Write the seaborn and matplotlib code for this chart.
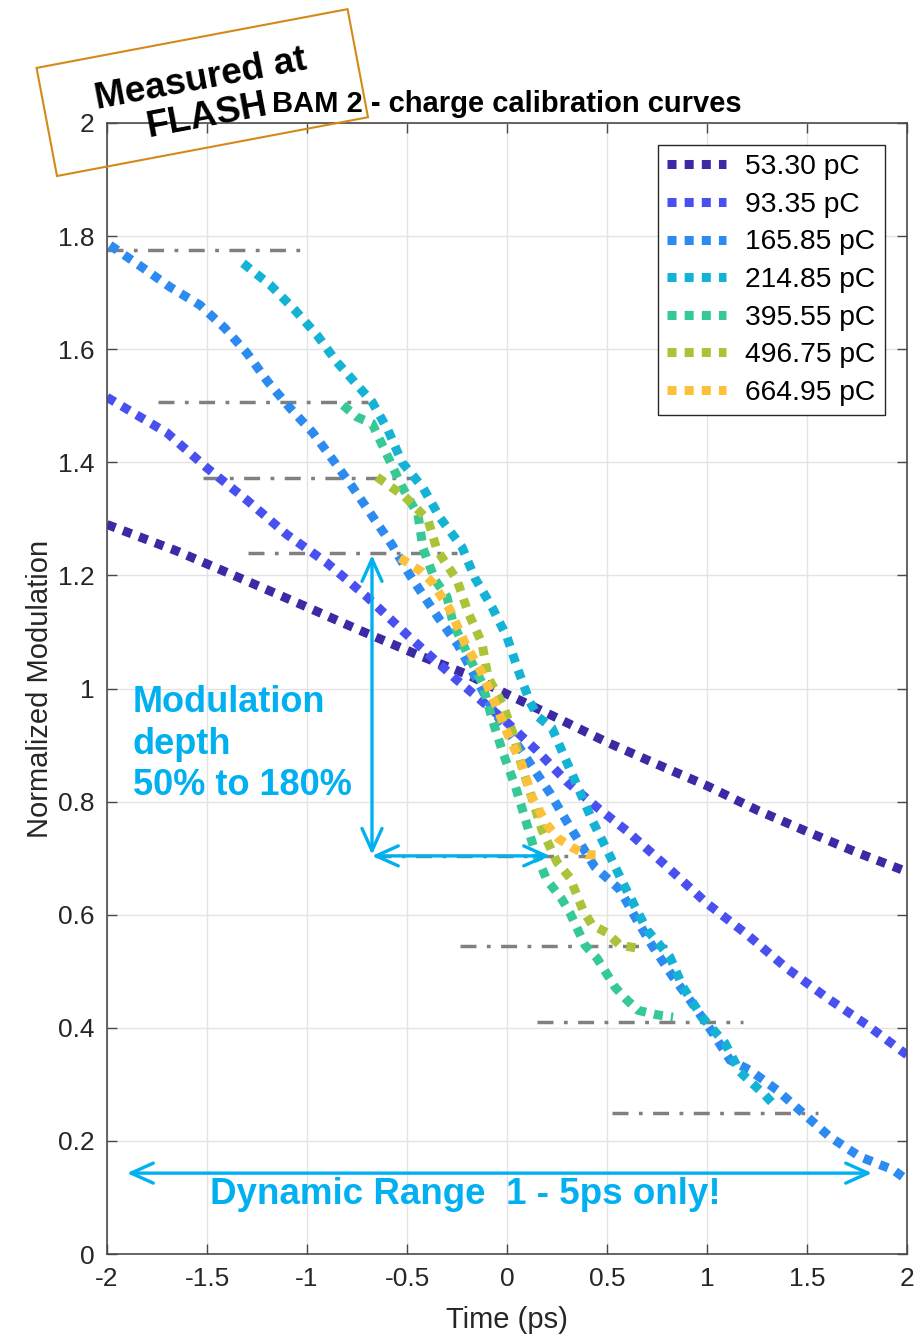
import numpy as np
import pandas as pd
import matplotlib
matplotlib.use("Agg")
import matplotlib.pyplot as plt
import seaborn as sns
from matplotlib.patches import Rectangle

# ---------------- data ----------------
charge_labels = ["53.30 pC", "93.35 pC", "165.85 pC", "214.85 pC",
                 "395.55 pC", "496.75 pC", "664.95 pC"]
colors = ["#3b2aa3", "#4a50f0", "#2d8af0", "#14b3d6", "#36c995", "#aac43a", "#fdc03b"]

t_53 = [-2.0, -1.65, -1.3, -1.0, -0.75, -0.45, -0.2, 0.0, 0.25, 0.5, 0.75, 1.0, 1.25, 1.5, 1.75, 2.0]
m_53 = [1.29, 1.243, 1.19, 1.144, 1.105, 1.06, 1.025, 0.99, 0.948, 0.905, 0.866, 0.828, 0.785, 0.747, 0.71, 0.676]

t_93 = [-2.0, -1.7, -1.5, -1.3, -1.1, -0.9, -0.7, -0.5, -0.25, 0.0, 0.15, 0.3, 0.45, 0.6, 0.8, 1.0, 1.2, 1.4, 1.6, 1.8, 2.0]
m_93 = [1.515, 1.452, 1.39, 1.333, 1.272, 1.222, 1.162, 1.095, 1.015, 0.94, 0.89, 0.835, 0.79, 0.748, 0.685, 0.62, 0.565, 0.505, 0.453, 0.405, 0.352]

t_165 = [-1.985, -1.825, -1.685, -1.535, -1.41, -1.3, -1.195, -1.085, -0.97, -0.87, -0.77, -0.67, -0.575,
         -0.485, -0.345, -0.245, -0.07, 0.08, 0.215, 0.3, 0.44, 0.565, 0.65, 0.73, 0.83, 0.915, 1.025,
         1.115, 1.215, 1.35, 1.48, 1.615, 1.765, 1.93, 2.0]
m_165 = [1.784, 1.745, 1.71, 1.678, 1.637, 1.593, 1.542, 1.496, 1.452, 1.404, 1.355, 1.303, 1.254,
         1.2, 1.126, 1.077, 0.962, 0.886, 0.815, 0.764, 0.684, 0.644, 0.59, 0.543, 0.49, 0.449, 0.393,
         0.343, 0.325, 0.29, 0.249, 0.207, 0.172, 0.149, 0.131]

t_214 = [-1.32, -1.185, -1.06, -0.95, -0.85, -0.735, -0.675, -0.595, -0.525, -0.42, -0.335, -0.225,
         -0.16, -0.075, 0.0, 0.055, 0.115, 0.155, 0.225, 0.29, 0.365, 0.43, 0.505, 0.58, 0.7, 0.815,
         0.88, 0.975, 1.09, 1.165, 1.29, 1.35]
m_214 = [1.752, 1.714, 1.669, 1.625, 1.577, 1.531, 1.507, 1.457, 1.4, 1.355, 1.302, 1.25,
         1.195, 1.144, 1.091, 1.033, 0.976, 0.95, 0.93, 0.877, 0.817, 0.764, 0.711, 0.656, 0.573, 0.525,
         0.472, 0.419, 0.373, 0.322, 0.281, 0.258]

t_395 = [-0.82, -0.75, -0.675, -0.6, -0.525, -0.445, -0.42, -0.36, -0.3, -0.27, -0.2, -0.125, -0.07,
         -0.02, 0.04, 0.09, 0.14, 0.2, 0.27, 0.315, 0.39, 0.45, 0.54, 0.6, 0.655, 0.75, 0.83]
m_395 = [1.501, 1.48, 1.469, 1.413, 1.357, 1.307, 1.248, 1.192, 1.162, 1.116, 1.063, 1.01, 0.941,
         0.886, 0.829, 0.771, 0.711, 0.661, 0.63, 0.603, 0.546, 0.523, 0.472, 0.449, 0.431, 0.423, 0.419]

t_496 = [-0.65, -0.51, -0.395, -0.35, -0.25, -0.195, -0.125, -0.095, -0.02, 0.03, 0.075, 0.125,
         0.175, 0.25, 0.315, 0.38, 0.425, 0.5, 0.565, 0.65]
m_496 = [1.374, 1.339, 1.298, 1.245, 1.192, 1.135, 1.08, 1.02, 0.971, 0.921, 0.861, 0.806,
         0.75, 0.693, 0.665, 0.608, 0.582, 0.568, 0.546, 0.541]

t_664 = [-0.535, -0.425, -0.37, -0.285, -0.21, -0.125, -0.06, 0.005, 0.075, 0.125, 0.2, 0.255, 0.33, 0.4, 0.48]
m_664 = [1.231, 1.206, 1.186, 1.139, 1.08, 1.027, 0.974, 0.918, 0.865, 0.808, 0.759, 0.735, 0.718, 0.706, 0.706]

# reference levels (dash-dot)
ref_levels = [1.775, 1.507, 1.372, 1.24, 0.704, 0.545, 0.41, 0.249]
ref_x_start = [-2.0, -1.745, -1.52, -1.295, -0.66, -0.235, 0.15, 0.525]
ref_x_end = [-1.01, -0.695, -0.475, -0.25, 0.45, 0.8, 1.18, 1.555]

x_ticks = [-2, -1.5, -1, -0.5, 0, 0.5, 1, 1.5, 2]
x_tick_labels = ["-2", "-1.5", "-1", "-0.5", "0", "0.5", "1", "1.5", "2"]
y_ticks = [0, 0.2, 0.4, 0.6, 0.8, 1.0, 1.2, 1.4, 1.6, 1.8, 2.0]
y_tick_labels = ["0", "0.2", "0.4", "0.6", "0.8", "1", "1.2", "1.4", "1.6", "1.8", "2"]

# annotation arrows: (x_start, y_start, x_end, y_end)
depth_arrow = (-0.675, 1.236, -0.675, 0.706)
time_arrow = (-0.675, 0.704, 0.215, 0.704)
range_arrow = (-1.9, 0.143, 1.825, 0.143)

# ---------------- style ----------------
sns.set_theme(style="ticks")
plt.rcParams["font.family"] = ["Liberation Sans", "DejaVu Sans"]
dark = "#262626"
axis_gray = "#4a4a4a"
cyan = "#00b0f0"

fig, ax = plt.subplots(figsize=(9.24, 13.36), dpi=100)
fig.subplots_adjust(left=107 / 924, right=907 / 924, bottom=82 / 1336, top=1 - 123 / 1336)

times = [t_53, t_93, t_165, t_214, t_395, t_496, t_664]
mods = [m_53, m_93, m_165, m_214, m_395, m_496, m_664]
frames = [pd.DataFrame({"Time": t, "Mod": m, "Charge": lab})
          for lab, t, m in zip(charge_labels, times, mods)]
df = pd.concat(frames, ignore_index=True)

# dash-dot reference levels (below curves)
ax.hlines(ref_levels, ref_x_start, ref_x_end, colors="#808080",
          linestyles=[(0, (4.6, 3.0, 1.1, 3.0))], linewidth=2.5, zorder=1.8)

sns.lineplot(data=df, x="Time", y="Mod", hue="Charge", hue_order=charge_labels,
             palette=colors, linewidth=6.5, linestyle=(0, (1, 0.9)),
             sort=False, estimator=None, legend=False, ax=ax, zorder=2)

ax.set_xlim(-2, 2)
ax.set_ylim(0, 2)
ax.set_xticks(x_ticks)
ax.set_xticklabels(x_tick_labels)
ax.set_yticks(y_ticks)
ax.set_yticklabels(y_tick_labels)
ax.grid(True, color="#e4e4e4", linewidth=1.0)
ax.set_axisbelow(True)
for s in ax.spines.values():
    s.set_visible(True)
    s.set_color(axis_gray)
    s.set_linewidth(1.2)
ax.tick_params(direction="in", top=True, right=True, length=7, width=1.0,
               color=axis_gray, labelsize=19, labelcolor=dark, pad=9)

ax.set_xlabel("Time (ps)", fontsize=21, color=dark, labelpad=11)
ax.set_ylabel("Normalized Modulation", fontsize=21, color=dark, labelpad=3)
ax.set_title("BAM 2 - charge calibration curves", fontsize=21, fontweight="bold",
             color="black", pad=8)

# legend
handles = ax.get_lines()[:len(charge_labels)]
leg = ax.legend(handles, charge_labels, loc="upper right",
                bbox_to_anchor=(885 / 924, 1 - 145 / 1336), bbox_transform=fig.transFigure,
                borderaxespad=0, frameon=True, fancybox=False, framealpha=1,
                edgecolor=dark, fontsize=20.3, handlelength=2.1, handletextpad=0.68,
                labelspacing=0.41, borderpad=0.33)
leg.get_frame().set_linewidth(1.0)
for txt in leg.get_texts():
    txt.set_color("black")

# arrows
arrow_kw = dict(arrowstyle="<->,head_length=0.8,head_width=0.36", color=cyan, lw=2.4,
                shrinkA=0, shrinkB=0, mutation_scale=20)
for (xa, ya, xb, yb) in (depth_arrow, time_arrow, range_arrow):
    ax.annotate("", xy=(xb, yb), xytext=(xa, ya), arrowprops=arrow_kw, zorder=4)

# cyan texts (baseline of last line)
ax.text(-1.87, 0.812, "Modulation\ndepth\n50% to 180%", color=cyan, fontsize=26,
        fontweight="bold", ha="left", va="baseline", linespacing=1.23, zorder=5)
ax.text(-0.21, 0.088, "Dynamic Range  1 - 5ps only!", color=cyan, fontsize=26.5,
        fontweight="bold", ha="center", va="baseline", zorder=5)

# "Measured at FLASH" stamp
rect = Rectangle((0.57, 11.60), 3.165, 1.10, angle=10.7, transform=fig.dpi_scale_trans,
                 fill=False, edgecolor="#d48a1a", linewidth=1.5)
fig.add_artist(rect)
fig.text(2.04, 12.38, "Measured at\nFLASH", transform=fig.dpi_scale_trans, rotation=10.7,
         rotation_mode="anchor", ha="center", va="center", multialignment="center",
         fontsize=26.5, fontweight="bold", color="black", linespacing=1.05)

fig.savefig("out.png", dpi=100)
